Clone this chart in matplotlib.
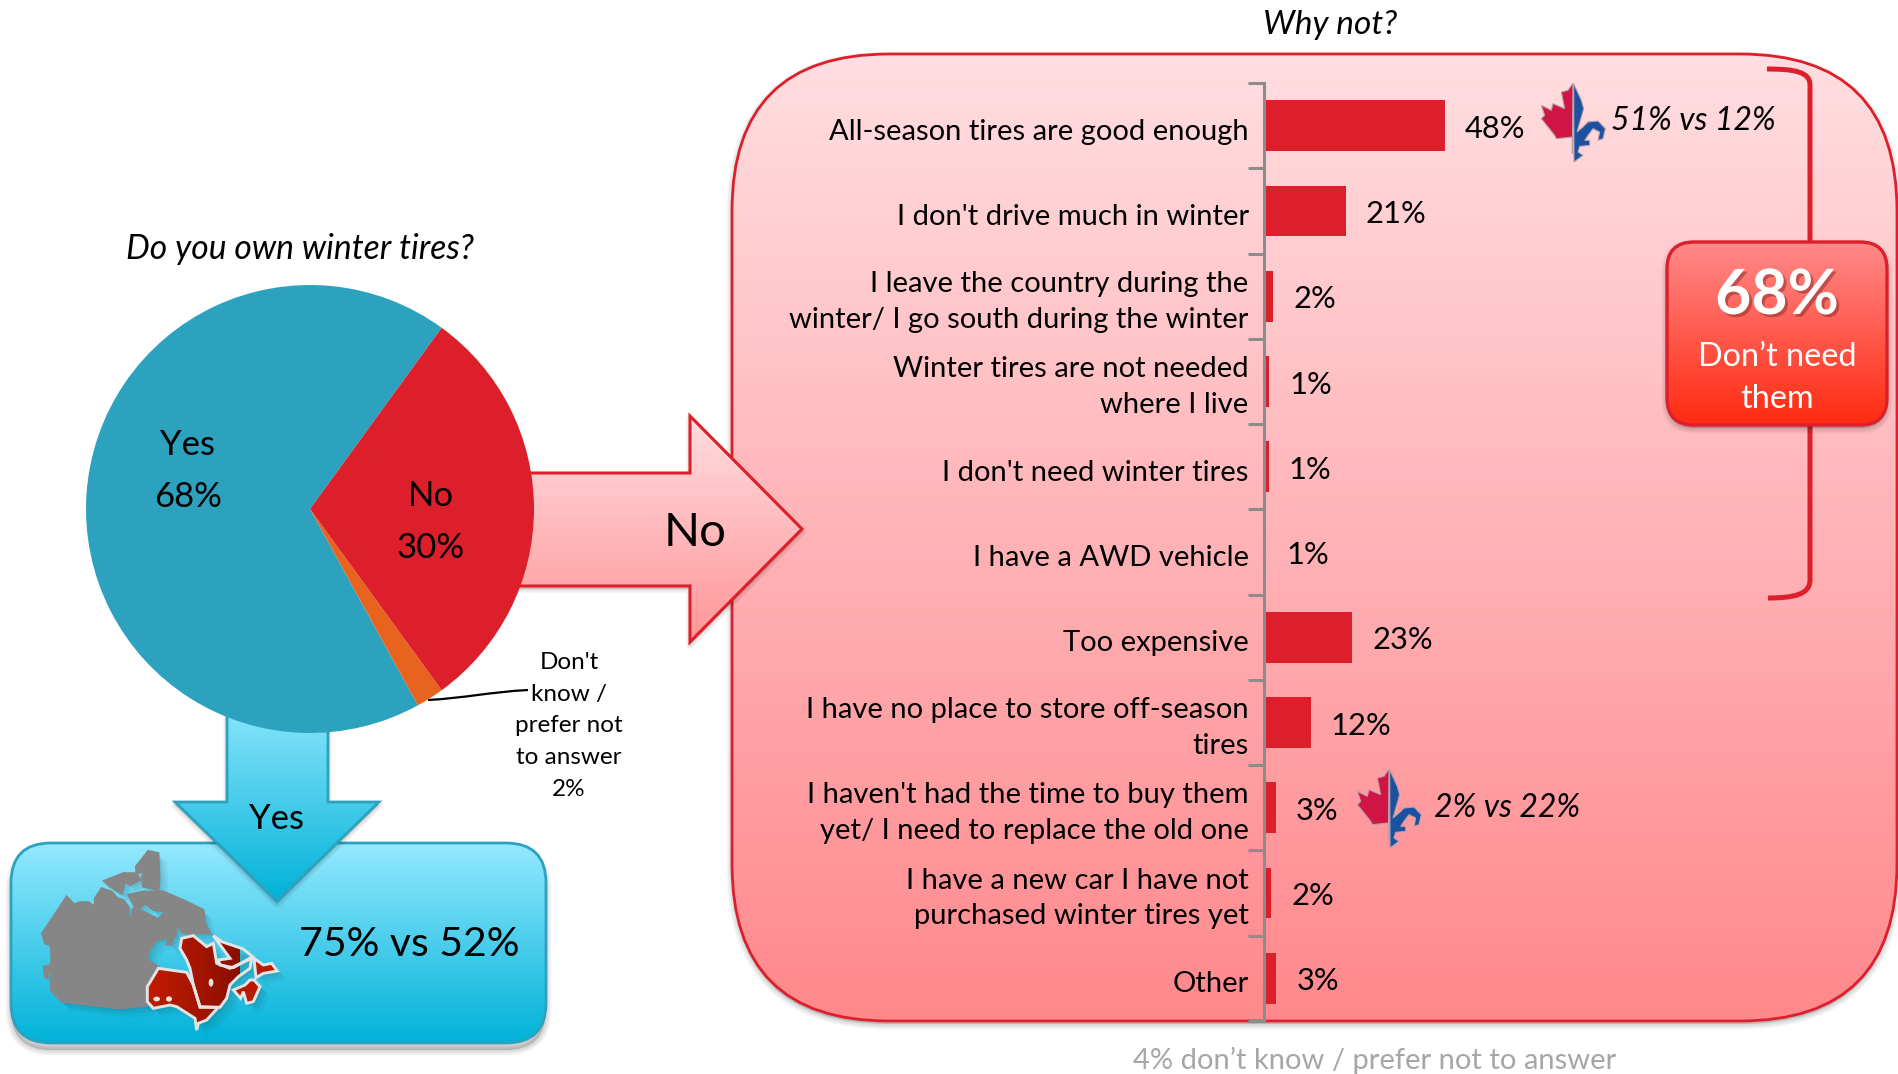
import numpy as np
import matplotlib
matplotlib.use("Agg")
import matplotlib.pyplot as plt
import matplotlib.patheffects as pe
from matplotlib.patches import Polygon, FancyBboxPatch, PathPatch, Ellipse
from matplotlib.path import Path
from matplotlib.colors import LinearSegmentedColormap
from matplotlib.transforms import ScaledTranslation

plt.rcParams['font.family'] = ['Lato', 'DejaVu Sans']

# ---- data ----
pie_labels = ["Yes", "Don't know", "No"]
pie_values = [68, 2, 30]
pie_colors = ["#2CA2BF", "#E8641E", "#DC1F2A"]

categories = [
    "All-season tires are good enough",
    "I don't drive much in winter",
    "I leave the country during the\nwinter/ I go south during the winter",
    "Winter tires are not needed\nwhere I live",
    "I don't need winter tires",
    "I have a AWD vehicle",
    "Too expensive",
    "I have no place to store off-season\ntires",
    "I haven't had the time to buy them\nyet/ I need to replace the old one",
    "I have a new car I have not\npurchased winter tires yet",
    "Other",
]
bar_values = [47.6, 21.5, 2.4, 1.3, 1.2, 0.6, 23.2, 12.3, 3.1, 1.9, 3.2]
bar_labels = ["48%", "21%", "2%", "1%", "1%", "1%", "23%", "12%", "3%", "2%", "3%"]

W, H = 1899, 1074
RED = "#DC1F2A"
fig = plt.figure(figsize=(W / 100, H / 100), dpi=100, facecolor="white")


def rect_px(x0, y0, x1, y1):
    return [x0 / W, 1 - y1 / H, (x1 - x0) / W, (y1 - y0) / H]


bg = fig.add_axes([0, 0, 1, 1], zorder=0)
bg.set_xlim(0, W)
bg.set_ylim(H, 0)
bg.axis("off")
top = fig.add_axes([0, 0, 1, 1], zorder=3)
top.set_xlim(0, W)
top.set_ylim(H, 0)
top.axis("off")
top.patch.set_alpha(0)


def gradient(ax, patch, c0, c1, y0, y1, x0, x1, z, horizontal=False):
    cmap = LinearSegmentedColormap.from_list("g", [c0, c1])
    ramp = np.linspace(0, 1, 256)
    ramp = ramp.reshape(1, -1) if horizontal else ramp.reshape(-1, 1)
    im = ax.imshow(ramp, cmap=cmap, aspect="auto",
                   extent=(x0, x1, y1, y0), zorder=z, interpolation="bilinear")
    im.set_clip_path(patch)
    ax.set_xlim(0, W)
    ax.set_ylim(H, 0)


def shadow(ax, make, z, dy=5, n=5, step=1.6, a=0.03):
    for k in range(n):
        p = make(dy)
        p.set(facecolor="black", edgecolor="black", alpha=a, linewidth=(k + 1) * step, zorder=z, joinstyle="round")
        ax.add_patch(p)


def round_box(x0, y0, x1, y1, r, c0, c1, edge, lw, z, dy=5):
    def make(d=0):
        return FancyBboxPatch((x0 + r, y0 + r + d), x1 - x0 - 2 * r, y1 - y0 - 2 * r,
                              boxstyle=f"round,pad={r},rounding_size={r}", mutation_aspect=1)
    shadow(bg, make, z, dy=dy)
    fill = make()
    fill.set(facecolor="none", edgecolor="none", zorder=z + 0.1)
    bg.add_patch(fill)
    gradient(bg, fill, c0, c1, y0, y1, x0, x1, z + 0.2)
    e = make()
    e.set(facecolor="none", edgecolor=edge, linewidth=lw, zorder=z + 0.3)
    bg.add_patch(e)


def poly_grad(pts, c0, c1, edge, lw, z):
    arr = np.array(pts, float)

    def make(d=0):
        return Polygon(arr + [0, d], closed=True)
    shadow(bg, make, z, dy=3, n=4, step=1.5, a=0.03)
    fill = make()
    fill.set(facecolor="none", edgecolor="none", zorder=z + 0.1)
    bg.add_patch(fill)
    gradient(bg, fill, c0, c1, arr[:, 1].min(), arr[:, 1].max(), arr[:, 0].min(), arr[:, 0].max(), z + 0.2)
    e = make()
    e.set(facecolor="none", edgecolor=edge, linewidth=lw, zorder=z + 0.3, joinstyle="miter")
    bg.add_patch(e)


# ---- panels ----
round_box(732, 54, 1897, 1021, 157, "#FFDEE1", "#FF888C", RED, 2.0, 1, dy=3)
round_box(11, 843, 546, 1043, 40, "#95E9FF", "#00B2D8", "#2CA2BF", 2.0, 1, dy=7)

# ---- arrows ----
poly_grad([(500, 473), (690, 473), (690, 416), (802, 529), (690, 642), (690, 586), (500, 586)],
          "#FFDDE0", "#FF9698", RED, 2.2, 2)
poly_grad([(227, 690), (328, 690), (328, 802), (379, 802), (277, 901), (175, 802), (227, 802)],
          "#95E9FF", "#00B2D8", "#2CA2BF", 2.0, 2)


def zm(pts):
    return np.array(pts, float) / 3 + [30, 845]


grey_parts = [
    [(37, 265), (110, 155), (132, 178), (150, 172), (175, 172), (215, 200), (240, 225), (290, 222), (300, 235),
     (310, 190), (330, 195), (370, 215), (385, 222), (405, 200), (440, 250), (435, 275), (415, 280), (380, 285),
     (360, 310), (350, 345), (385, 365), (355, 420), (350, 482), (270, 490), (180, 480), (95, 470), (62, 435),
     (65, 390), (60, 370), (65, 345), (62, 300), (45, 295)],
    [(195, 160), (215, 130), (245, 140), (262, 160), (280, 165), (295, 185), (300, 235), (240, 225), (215, 200),
     (195, 180)],
    [(222, 108), (280, 85), (285, 110), (275, 145), (240, 125)],
    [(318, 65), (355, 18), (385, 25), (388, 100), (385, 135), (340, 125), (335, 95), (345, 80), (320, 85)],
    [(285, 85), (320, 85), (330, 105), (300, 120), (285, 110)],
    [(295, 150), (340, 140), (400, 140), (470, 170), (520, 195), (525, 235), (540, 265), (500, 265), (460, 265),
     (440, 240), (410, 200), (370, 195), (345, 175), (320, 195)],
    [(415, 285), (430, 280), (425, 298), (412, 298)],
    [(42, 365), (58, 362), (52, 400), (45, 395)],
]
red_parts = [
    [(385, 370), (470, 382), (490, 420), (510, 485), (565, 487), (530, 525), (505, 535), (500, 555), (495, 520),
     (440, 485), (420, 480), (370, 490), (352, 470), (352, 425)],
    [(455, 280), (490, 272), (530, 305), (550, 295), (560, 355), (600, 370), (665, 340), (660, 370), (625, 395),
     (600, 420), (590, 460), (570, 487), (510, 487), (490, 420), (480, 370), (470, 345), (450, 310)],
    [(550, 272), (575, 290), (640, 312), (668, 335), (610, 368), (570, 360), (565, 345), (600, 340)],
    [(672, 340), (700, 360), (725, 355), (742, 378), (700, 385), (678, 398)],
    [(610, 435), (645, 420), (660, 405), (672, 405), (690, 425), (670, 470), (650, 475), (640, 440), (632, 460)],
]
lakes = [(380, 462, 20, 14), (417, 462, 18, 16), (543, 413, 14, 24)]

for parts in (grey_parts, red_parts):
    for part in parts:
        for off, a in [(3, 0.06), (6, 0.05), (9, 0.04)]:
            bg.add_patch(Polygon(zm(part) + [off, off], closed=True, fc="black", ec="none", alpha=a, zorder=4))
for part in grey_parts:
    bg.add_patch(Polygon(zm(part), closed=True, fc="#868686", ec="#868686", lw=1.6, zorder=4.1))
for part in red_parts:
    poly = Polygon(zm(part), closed=True, fc="none", ec="none", zorder=4.2)
    bg.add_patch(poly)
    gradient(bg, poly, "#C41C00", "#8A0F00", 845, 1035, 145, 240, 4.3, horizontal=True)
for part in red_parts[3:]:
    bg.add_patch(Polygon(zm(part), closed=True, fc="#B81A02", ec="none", zorder=4.35))
for part in red_parts:
    bg.add_patch(Polygon(zm(part), closed=True, fc="none", ec="#E4E4E4", lw=2.1, zorder=4.4))
for lx, ly, lw_, lh in lakes:
    cx, cy = zm([(lx, ly)])[0]
    bg.add_patch(Ellipse((cx, cy), lw_ / 3, lh / 3, fc="#E4E4E4", ec="none", zorder=4.5))

# ---- bracket + 68% box ----
bracket = Path([(1767, 69), (1795, 69), (1810, 72), (1810, 85), (1810, 580), (1810, 594), (1795, 598), (1768, 598)],
               [Path.MOVETO, Path.CURVE4, Path.CURVE4, Path.CURVE4, Path.LINETO, Path.CURVE4, Path.CURVE4, Path.CURVE4])
bg.add_patch(PathPatch(bracket, fc="none", ec=RED, lw=3.6, zorder=5))
round_box(1667, 242, 1887, 425, 27, "#FF8A8A", "#FF2A10", RED, 2.4, 6, dy=3)

# ---- pie ----
ax_pie = fig.add_axes(rect_px(310 - 224, 509 - 224, 310 + 224, 509 + 224), zorder=2)
ax_pie.pie(pie_values, colors=pie_colors, startangle=54, counterclock=True, radius=1,
           wedgeprops=dict(linewidth=0))
ax_pie.set_xlim(-1, 1)
ax_pie.set_ylim(-1, 1)
ax_pie.patch.set_alpha(0)

# ---- bars ----
ax_bar = fig.add_axes(rect_px(1264, 83, 1264 + 380, 1021), zorder=2)
n = len(categories)
ypos = np.arange(n)
ax_bar.barh(ypos, bar_values, height=0.595, color=RED, linewidth=0)
ax_bar.set_xlim(0, 100)
ax_bar.set_ylim(n - 0.5, -0.5)
ax_bar.patch.set_alpha(0)
for s in ["top", "right", "bottom"]:
    ax_bar.spines[s].set_visible(False)
ax_bar.spines["left"].set(color="#8C8C8C", linewidth=2.2)
ax_bar.set_xticks([])
ax_bar.set_yticks(ypos)
ax_bar.set_yticklabels(categories, fontsize=21, color="black", multialignment="right")
ax_bar.tick_params(axis="y", which="major", length=0, pad=11)
ax_bar.set_yticks(np.arange(n + 1) - 0.5, minor=True)
ax_bar.tick_params(axis="y", which="minor", length=11.5, width=2.2, color="#8C8C8C")
for lab in ax_bar.get_yticklabels():
    lab.set_linespacing(1.47)
    px = -2 if "\n" in lab.get_text() else 3.5
    lab.set_transform(lab.get_transform() + ScaledTranslation(0, -px / 100, fig.dpi_scale_trans))
for y, v, t in zip(ypos, bar_values, bar_labels):
    ax_bar.annotate(t, (v, y), xytext=(14.5, -2.2), textcoords="offset points", ha="left", va="center",
                    fontsize=22.2, color="black", clip_on=False)


# ---- icons ----
leaf = [(1000, 68), (985, 90), (965, 95), (975, 145), (940, 130), (935, 150), (905, 135), (915, 165), (905, 175),
        (945, 225), (950, 235), (998, 230), (998, 280)]
fleur = [(1002, 70), (1025, 120), (1032, 145), (1025, 170), (1012, 215), (1030, 200), (1045, 185), (1075, 182),
         (1097, 205), (1090, 235), (1075, 240), (1080, 215), (1060, 205), (1045, 225), (1035, 240), (1050, 240),
         (1050, 255), (1020, 258), (1015, 275), (1030, 285), (1003, 305)]
for cx, cy in [(1573, 83), (1389, 769)]:
    for shape, col in [(leaf, "#D01545"), (fleur, "#1C50A0")]:
        a = (np.array(shape, float) - [1000, 68]) / 3 + [cx, cy]
        top.add_patch(Polygon(a, closed=True, fc=col, ec="#B9A0A8", lw=0.8))


# ---- texts ----
def T(x, y, s, size, **kw):
    kw.setdefault("ha", "center")
    kw.setdefault("va", "center")
    kw.setdefault("color", "black")
    return top.text(x, y, s, fontsize=size, **kw)


T(300, 249, "Do you own winter tires?", 24.2, style="italic")
T(1330, 25, "Why not?", 24, style="italic")
T(1375, 1060, "4% don\u2019t know / prefer not to answer", 21, color="#A6A6A6")
T(188, 471, "Yes\n68%", 25, linespacing=1.79)
T(431, 522, "No\n30%", 25, linespacing=1.79)
T(569, 726, "Don't\nknow /\nprefer not\nto answer\n2%", 17.5, linespacing=1.64)
T(695, 533, "No", 34)
T(277, 819, "Yes", 25)
T(409, 945, "75% vs 52%", 29.5)
T(1611, 121, "51% vs 12%", 23, style="italic", ha="left")
T(1434, 808, "2% vs 22%", 23, style="italic", ha="left")
t68 = T(1777, 296, "68%", 45, color="white", fontweight="bold")
t68.set_path_effects([pe.withSimplePatchShadow(offset=(2, -2), shadow_rgbFace="#7a2020", alpha=0.45)])
T(1777, 378, "Don\u2019t need\nthem", 23.3, color="white", linespacing=1.5)

leader = Path([(428, 700), (465, 698), (490, 692), (528, 690)], [Path.MOVETO, Path.CURVE4, Path.CURVE4, Path.CURVE4])
top.add_patch(PathPatch(leader, fc="none", ec="black", lw=1.6))

fig.savefig("out.png", dpi=100)
